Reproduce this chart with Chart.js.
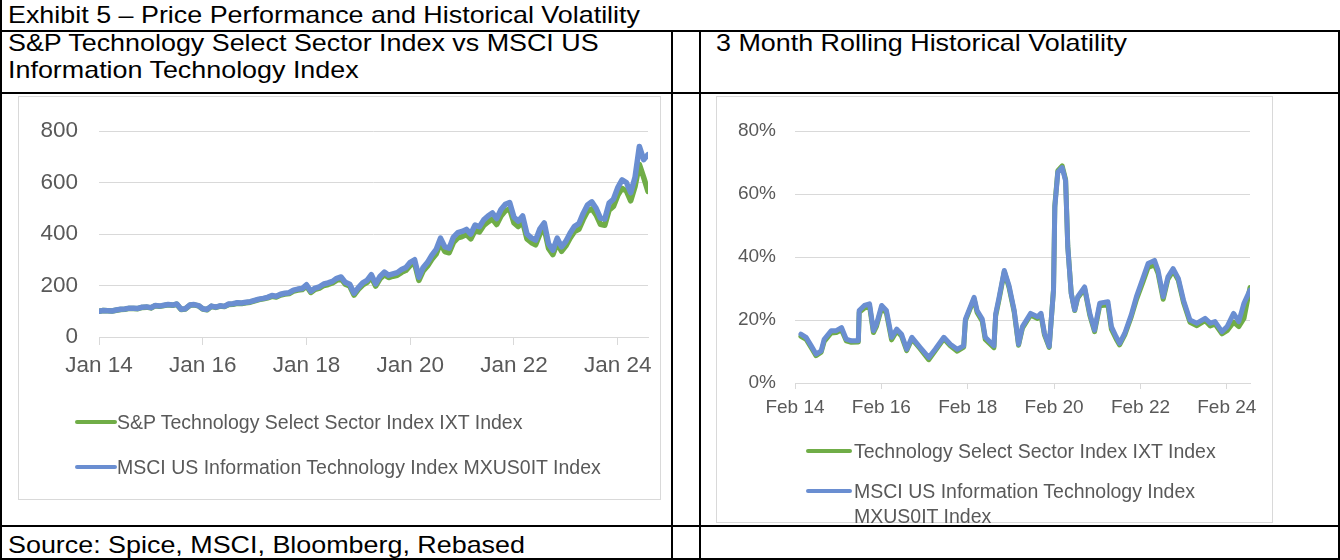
<!DOCTYPE html>
<html>
<head>
<meta charset="utf-8">
<script src="https://cdn.jsdelivr.net/npm/chart.js@4.4.1/dist/chart.umd.min.js"></script>
<style>
  body { margin:0; width:1340px; height:560px; position:relative; overflow:hidden; background:#fff;
         font-family: Arial, "Liberation Sans", sans-serif; }
  .ln { position:absolute; background:#000; }
  .hdr { position:absolute; font-size:24px; line-height:27px; color:#000; white-space:nowrap;
         transform:scaleX(1.12); transform-origin:0 0; }
  .box { position:absolute; border:1px solid #d9d9d9; box-sizing:border-box; }
  canvas { position:absolute; }
  .leg { position:absolute; font-size:19.5px; line-height:25px; color:#595959; }
  .sw { position:absolute; height:4px; border-radius:2px; }
</style>
</head>
<body>

<div class="ln" style="left:0;top:30px;width:1340px;height:2px"></div>
<div class="ln" style="left:0;top:92px;width:1340px;height:2px"></div>
<div class="ln" style="left:0;top:525px;width:1340px;height:2px"></div>
<div class="ln" style="left:0;top:558px;width:1340px;height:2px"></div>
<div class="ln" style="left:0;top:0;width:2px;height:560px"></div>
<div class="ln" style="left:671px;top:30px;width:2px;height:530px"></div>
<div class="ln" style="left:699px;top:30px;width:2px;height:530px"></div>
<div class="ln" style="left:1338px;top:30px;width:2px;height:530px"></div>

<div class="hdr" style="left:8px;top:1px">Exhibit 5 – Price Performance and Historical Volatility</div>
<div class="hdr" style="left:8px;top:29px">S&amp;P Technology Select Sector Index vs MSCI US<br>Information Technology Index</div>
<div class="hdr" style="left:716px;top:29px">3 Month Rolling Historical Volatility</div>
<div class="hdr" style="left:8px;top:531px">Source: Spice, MSCI, Bloomberg, Rebased</div>

<div class="box" style="left:18px;top:96px;width:643px;height:404px"></div>
<canvas id="price-chart" width="643" height="404" style="left:18px;top:96px"></canvas>
<div class="box" style="left:716px;top:96px;width:557px;height:427px"></div>
<canvas id="vol-chart" width="557" height="427" style="left:716px;top:96px"></canvas>
<div id="legends"></div>

<script>
const green = "#70ad47";
const blue = "#6a8ed1";
const MONTHS = ["Jan","Feb","Mar","Apr","May","Jun","Jul","Aug","Sep","Oct","Nov","Dec"];

// rebased price, monthly from Jan 2014
const priceStartYear = 2014;
const ixtPrice = [
  100,103,102,101,104,107,108,111,111,110,115,116,
  113,121,119,122,125,123,127,107,109,123,125,121,
  109,106,119,115,120,118,126,127,131,130,133,135,
  140,145,148,152,158,155,163,167,169,178,182,184,
  198,173,185,190,200,204,210,221,226,205,198,163,
  185,202,212,233,198,226,242,231,236,240,251,259,
  278,287,220,257,276,302,322,364,332,327,367,385,
  390,398,381,414,408,433,447,458,437,470,490,497,
  443,429,448,381,367,358,400,422,344,320,365,333,
  354,385,410,418,456,488,498,474,438,434,493,507,
  550,577,567,529,585,670,620,565
];
const msciPrice = [
  100,103,102,101,105,108,109,112,112,111,116,117,
  114,122,120,123,126,124,128,108,110,124,126,122,
  110,107,120,116,121,119,128,129,133,132,135,137,
  142,147,150,154,161,158,166,170,172,182,186,188,
  203,178,190,195,206,210,216,228,233,212,205,170,
  192,210,220,242,206,235,252,240,245,250,262,270,
  290,300,232,270,290,318,340,384,350,345,388,405,
  410,418,400,435,428,455,470,482,460,495,515,522,
  465,450,470,400,385,376,420,443,362,337,384,350,
  372,404,430,440,480,513,525,500,462,458,520,535,
  580,610,600,560,620,740,689,708
];
const priceTicks = ["Jan 14","Jan 16","Jan 18","Jan 20","Jan 22","Jan 24"];
const priceYTicks = [0, 200, 400, 600, 800];
const priceLabels = ["S&P Technology Select Sector Index IXT Index",
                     "MSCI US Information Technology Index MXUS0IT Index"];

// 3m rolling volatility (%), dates as decimal years
const volYears = [
  2014.22,2014.34,2014.46,2014.57,2014.69,2014.76,2014.92,2015.04,2015.16,2015.27,
  2015.39,2015.55,2015.57,2015.69,2015.81,2015.90,2015.97,2016.09,2016.20,2016.32,
  2016.44,2016.55,2016.67,2016.79,2016.98,2017.18,2017.33,2017.53,2017.68,2017.84,
  2017.99,2018.03,2018.23,2018.30,2018.42,2018.49,2018.69,2018.73,2018.81,2018.93,
  2019.04,2019.16,2019.26,2019.35,2019.54,2019.70,2019.78,2019.86,2019.97,2020.07,
  2020.10,2020.17,2020.27,2020.35,2020.40,2020.48,2020.56,2020.63,2020.79,2020.91,
  2021.02,2021.14,2021.33,2021.41,2021.52,2021.60,2021.72,2021.87,2021.99,2022.14,
  2022.26,2022.41,2022.49,2022.61,2022.72,2022.84,2022.96,2023.08,2023.23,2023.39,
  2023.58,2023.70,2023.81,2023.97,2024.09,2024.24,2024.36,2024.48,2024.62
];
const ixtVol = [
  14.8,13.9,11.2,8.7,9.8,13.2,15.9,16.0,16.9,13.4,
  12.9,13.0,22.4,23.8,24.3,16.0,18.0,23.9,22.2,13.7,
  16.5,14.9,10.3,14.0,10.9,7.4,10.2,14.0,11.8,10.1,
  11.4,19.8,26.7,22.4,19.6,13.8,11.2,21.3,26.6,35.3,
  30.3,22.5,12.0,17.4,21.6,20.5,21.6,15.3,11.3,29.8,
  56.3,67.4,68.9,64.6,43.5,28.5,23.0,27.0,30.0,21.5,
  16.3,24.5,24.8,17.1,14.0,12.1,15.3,21.0,26.5,32.0,
  36.7,37.5,34.8,26.6,33.0,35.6,32.6,25.6,19.3,18.2,
  19.8,18.1,18.7,15.6,16.6,19.3,17.9,20.5,30.3
];
const msciVol = [
  15.5,14.5,11.8,9.2,10.2,13.9,16.6,16.6,17.6,13.9,
  13.4,13.4,23.0,24.6,25.1,16.6,18.7,24.6,23.0,14.5,
  17.1,15.5,10.7,14.5,11.3,8.1,10.7,14.5,12.3,10.7,
  11.8,20.3,27.2,23.0,20.3,14.5,11.8,21.9,27.2,35.7,
  30.9,23.0,12.3,17.9,22.1,21.0,22.1,15.8,11.6,29.5,
  55.8,66.9,68.4,64.2,43.2,28.4,23.2,27.4,30.5,22.1,
  16.8,25.3,25.8,17.9,14.7,12.6,15.8,21.6,27.4,33.2,
  37.9,38.9,35.8,27.4,33.7,36.3,33.2,26.3,20.0,19.0,
  20.5,19.0,19.5,16.3,17.9,22.1,19.5,25.3,29.5
];
const volTicks = ["Feb 14","Feb 16","Feb 18","Feb 20","Feb 22","Feb 24"];
const volYTicks = [0, 20, 40, 60, 80];
const volLabels = ["Technology Select Sector Index IXT Index",
                   "MSCI US Information Technology Index MXUS0IT Index"];

function tickValue(lbl) {
  const parts = lbl.split(" ");
  return 2000 + Number(parts[1]) + MONTHS.indexOf(parts[0]) / 12;
}
function monthly(arr) {
  return arr.map((v, i) => ({ x: priceStartYear + i / 12, y: v }));
}
function dated(arr) {
  return arr.map((v, i) => ({ x: volYears[i], y: v }));
}

const tickColor = "#595959";
const gridColor = "#d9d9d9";

function lineSet(label, pts, color, width, order) {
  return { label: label, data: pts, borderColor: color, backgroundColor: color,
           borderWidth: width, pointRadius: 0, tension: 0, fill: false, order: order,
           borderJoinStyle: "round", borderCapStyle: "round" };
}

function axes(o) {
  return {
    x: {
      type: "linear", min: o.xmin, max: o.xmax,
      afterBuildTicks: ax => { ax.ticks = o.xTicks.map(t => ({ value: tickValue(t), label: t })); },
      afterFit: ax => { ax.height = 40; },
      ticks: { callback: (v, i) => o.xTicks[i], autoSkip: false, maxRotation: 0,
               color: tickColor, font: { family: "Arial, 'Liberation Sans'", size: o.font }, padding: o.xPad },
      grid: { drawOnChartArea: false, drawTicks: true, tickLength: o.tickLen, color: gridColor, lineWidth: 1 },
      border: { color: gridColor, width: 1 }
    },
    y: {
      min: o.yTicks[0], max: o.yTicks[o.yTicks.length - 1],
      afterBuildTicks: ax => { ax.ticks = o.yTicks.map(v => ({ value: v })); },
      afterFit: ax => { ax.width = o.yWidth; },
      ticks: { callback: o.yFmt, color: tickColor, font: { family: "Arial, 'Liberation Sans'", size: o.font }, padding: o.yPad },
      grid: { color: gridColor, lineWidth: 1, drawTicks: false },
      border: { display: false }
    }
  };
}

new Chart(document.getElementById("price-chart"), {
  type: "line",
  data: {
    datasets: [
      lineSet(priceLabels[0], monthly(ixtPrice), green, 5.5, 2),
      lineSet(priceLabels[1], monthly(msciPrice), blue, 5.5, 1)
    ]
  },
  options: {
    responsive: false, animation: false,
    layout: { padding: { top: 35, right: 13, bottom: 123, left: 0 } },
    plugins: { legend: { display: false }, tooltip: { enabled: false } },
    scales: axes({ xmin: priceStartYear, xmax: priceStartYear + (msciPrice.length - 1) / 12,
                   xTicks: priceTicks, yTicks: priceYTicks, yFmt: v => v,
                   font: 22.5, xPad: 7, tickLen: 8, yWidth: 81, yPad: 21 })
  }
});

new Chart(document.getElementById("vol-chart"), {
  type: "line",
  data: {
    datasets: [
      lineSet(volLabels[0], dated(ixtVol), green, 5, 2),
      lineSet(volLabels[1], dated(msciVol), blue, 5, 1)
    ]
  },
  options: {
    responsive: false, animation: false,
    layout: { padding: { top: 35, right: 23, bottom: 100, left: 0 } },
    plugins: { legend: { display: false }, tooltip: { enabled: false } },
    scales: axes({ xmin: tickValue(volTicks[0]), xmax: volYears[volYears.length - 1],
                   xTicks: volTicks, yTicks: volYTicks, yFmt: v => v + "%",
                   font: 19, xPad: 7, tickLen: 6, yWidth: 79, yPad: 19 })
  }
});

// legends (html, Excel style line swatches)
const legendSpecs = [
  { labels: priceLabels, sw: [75, 42], text: 117, rows: [422, 467], width: 560 },
  { labels: volLabels, sw: [806, 46], text: 854, rows: [451, 491], width: 374 }
];
const legendHost = document.getElementById("legends");
legendSpecs.forEach(spec => {
  spec.labels.forEach((lbl, i) => {
    const col = i === 0 ? green : blue;
    const sw = document.createElement("div");
    sw.className = "sw";
    sw.style.cssText = `left:${spec.sw[0]}px;width:${spec.sw[1]}px;top:${spec.rows[i] - 2}px;background:${col}`;
    const tx = document.createElement("div");
    tx.className = "leg";
    tx.style.cssText = `left:${spec.text}px;top:${spec.rows[i] - 12.5}px;width:${spec.width}px`;
    tx.textContent = lbl;
    legendHost.appendChild(sw);
    legendHost.appendChild(tx);
  });
});
</script>
</body>
</html>
